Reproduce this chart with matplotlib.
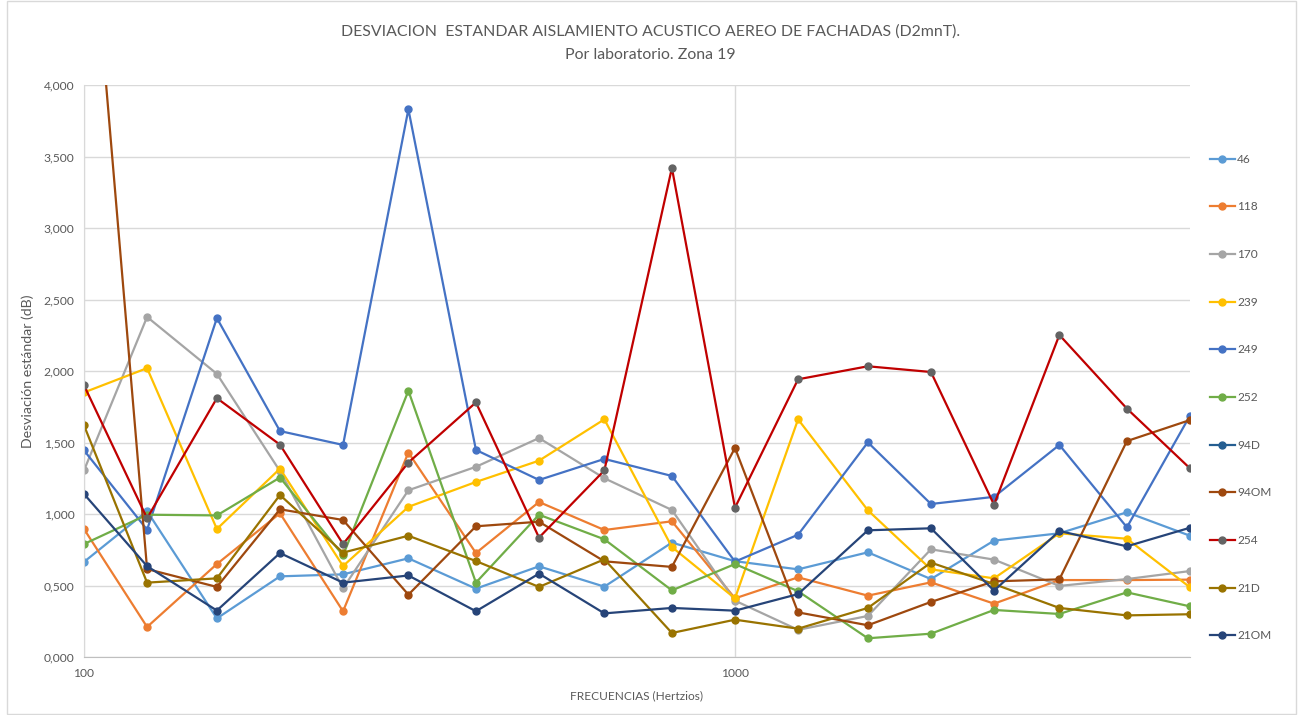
import numpy as np
import matplotlib
matplotlib.use("Agg")
from matplotlib import pyplot as plt
from matplotlib.ticker import FuncFormatter, FixedLocator, NullLocator

plt.rcParams['font.family'] = ['Lato', 'DejaVu Sans']

freqs = [100, 125, 160, 200, 250, 315, 400, 500, 630, 800,
         1000, 1250, 1600, 2000, 2500, 3150, 4000, 5000]

labels = ['46', '118', '170', '239', '249', '252', '94D', '94OM', '254', '21D', '21OM']

s46 = [0.665, 1.02, 0.27, 0.564, 0.578, 0.69, 0.478, 0.634, 0.492, 0.80,
       0.67, 0.613, 0.732, 0.545, 0.814, 0.865, 1.012, 0.848]
s118 = [0.895, 0.21, 0.65, 1.005, 0.32, 1.43, 0.727, 1.084, 0.888, 0.949,
        0.41, 0.557, 0.429, 0.522, 0.373, 0.538, 0.538, 0.541]
s170 = [1.305, 2.378, 1.98, 1.30, 0.48, 1.166, 1.33, 1.531, 1.25, 1.028,
        0.394, 0.19, 0.287, 0.753, 0.681, 0.497, 0.545, 0.601]
s239 = [1.85, 2.02, 0.895, 1.317, 0.636, 1.05, 1.224, 1.373, 1.662, 0.769,
        0.41, 1.662, 1.026, 0.613, 0.55, 0.865, 0.827, 0.487]
s249 = [1.445, 0.89, 2.37, 1.58, 1.483, 3.83, 1.448, 1.238, 1.385, 1.266,
        0.667, 0.855, 1.501, 1.07, 1.12, 1.483, 0.907, 1.688]
s252 = [0.79, 0.995, 0.99, 1.255, 0.71, 1.862, 0.52, 0.995, 0.823, 0.466,
        0.65, 0.46, 0.131, 0.163, 0.329, 0.301, 0.452, 0.354]
s94D = [np.nan] * len(freqs)
s94OM = [5.83, 0.615, 0.49, 1.033, 0.958, 0.436, 0.914, 0.946, 0.669, 0.63,
         1.462, 0.312, 0.222, 0.385, 0.529, 0.543, 1.51, 1.657]
s254 = [1.90, 0.97, 1.81, 1.485, 0.79, 1.36, 1.78, 0.835, 1.305, 3.42,
        1.044, 1.942, 2.033, 1.993, 1.065, 2.252, 1.737, 1.319]
s21D = [1.62, 0.52, 0.55, 1.133, 0.73, 0.848, 0.671, 0.49, 0.683, 0.168,
        0.261, 0.198, 0.343, 0.66, 0.51, 0.343, 0.291, 0.299]
s21OM = [1.14, 0.635, 0.325, 0.727, 0.52, 0.57, 0.32, 0.583, 0.305, 0.343,
         0.324, 0.44, 0.886, 0.90, 0.464, 0.881, 0.774, 0.904]

series = [s46, s118, s170, s239, s249, s252, s94D, s94OM, s254, s21D, s21OM]
marker_colors = ['#5B9BD5', '#ED7D31', '#A5A5A5', '#FFC000', '#4472C4', '#70AD47',
                 '#255E91', '#9E480E', '#636363', '#997300', '#264478']
line_colors = list(marker_colors)
line_colors[8] = '#C00000'

txt = '#595959'
grid = '#D9D9D9'

fig = plt.figure(figsize=(13.01, 7.15), dpi=100)
ax = fig.add_axes([84 / 1301, 58 / 715, (1190 - 84) / 1301, (657 - 85) / 715])

for vals, lab, mc, lc in zip(series, labels, marker_colors, line_colors):
    ax.plot(freqs, vals, color=lc, linewidth=1.6, marker='o', markersize=5,
            markerfacecolor=mc, markeredgecolor=mc, label=lab)

ax.set_xscale('log')
ax.set_xlim(100, 5000)
ax.set_ylim(0, 4)
ax.xaxis.set_major_locator(FixedLocator([100, 1000]))
ax.xaxis.set_minor_locator(NullLocator())
ax.xaxis.set_major_formatter(FuncFormatter(lambda v, p: '%d' % v))
ax.set_yticks(np.arange(0, 4.01, 0.5))
ax.yaxis.set_major_formatter(FuncFormatter(lambda v, p: ('%.3f' % v).replace('.', ',')))

ax.grid(True, color=grid, linewidth=1)
ax.set_axisbelow(True)
for sp in ['top', 'right']:
    ax.spines[sp].set_visible(False)
ax.spines['left'].set_color(grid)
ax.spines['bottom'].set_color('#BFBFBF')
ax.tick_params(length=0, colors=txt, labelsize=8.7)
ax.tick_params(axis='x', pad=8)
ax.tick_params(axis='y', pad=7)

ax.set_xlabel('FRECUENCIAS (Hertzios)', color=txt, fontsize=8.6, labelpad=8)
ax.set_ylabel('Desviación estándar (dB)', color=txt, fontsize=10.2, labelpad=7)

fig.text(0.5, 1 - 32 / 715, 'DESVIACION  ESTANDAR AISLAMIENTO ACUSTICO AEREO DE FACHADAS (D2mnT).',
         ha='center', va='center', color=txt, fontsize=11.4)
fig.text(0.5, 1 - 55 / 715, 'Por laboratorio. Zona 19',
         ha='center', va='center', color=txt, fontsize=11.4)

leg = fig.legend(loc='upper left', bbox_to_anchor=(1205 / 1301, 1 - 149 / 715),
                 frameon=False, fontsize=8.6, labelspacing=3.07, handlelength=2.1,
                 handletextpad=0.2, borderaxespad=0)
for t in leg.get_texts():
    t.set_color(txt)

fig.patches.append(plt.Rectangle((7 / 1301, 0.002), 1289 / 1301, 0.996, transform=fig.transFigure,
                                 fill=False, edgecolor=grid, linewidth=1))

fig.savefig('out.png', dpi=100)
